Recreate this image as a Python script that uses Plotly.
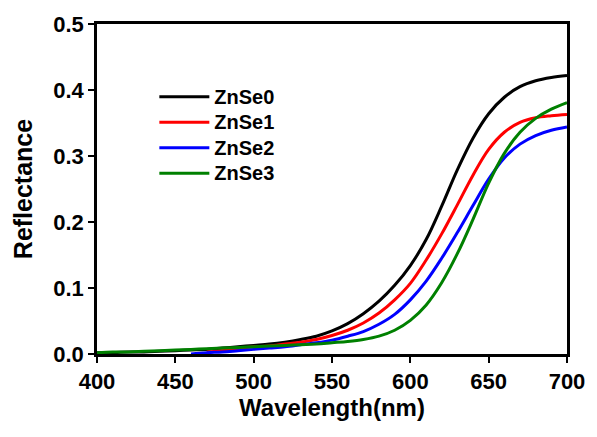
import plotly.graph_objects as go

wl = list(range(400, 701, 10))

znse0 = [0.002, 0.002, 0.003, 0.003, 0.004, 0.005, 0.006, 0.007, 0.009, 0.011,
         0.013, 0.015, 0.018, 0.022, 0.027, 0.035, 0.046, 0.061, 0.080, 0.104,
         0.134, 0.173, 0.224, 0.279, 0.327, 0.364, 0.389, 0.405, 0.414, 0.419,
         0.422]
wl1 = list(range(470, 701, 10))
znse1 = [0.003, 0.005, 0.008, 0.011, 0.012, 0.015, 0.018, 0.022, 0.028, 0.036,
         0.047, 0.062, 0.082, 0.107, 0.142, 0.182, 0.226, 0.271, 0.310, 0.336,
         0.351, 0.358, 0.361, 0.363]
wl2 = list(range(460, 701, 10))
znse2 = [0.000, 0.002, 0.003, 0.005, 0.007, 0.009, 0.011, 0.014, 0.017, 0.021,
         0.027, 0.034, 0.045, 0.060, 0.082, 0.110, 0.145, 0.184, 0.225, 0.265,
         0.297, 0.318, 0.331, 0.339, 0.344]
znse3 = [0.002, 0.003, 0.003, 0.004, 0.005, 0.006, 0.007, 0.008, 0.009, 0.010,
         0.011, 0.012, 0.013, 0.014, 0.015, 0.017, 0.019, 0.022, 0.027, 0.036,
         0.051, 0.074, 0.108, 0.152, 0.204, 0.259, 0.304, 0.336, 0.357, 0.371,
         0.381]

names = ["ZnSe0", "ZnSe1", "ZnSe2", "ZnSe3"]
colors = ["#000000", "#ff0000", "#0000ff", "#008000"]
xs = [wl, wl1, wl2, wl]
ys = [znse0, znse1, znse2, znse3]

font_fam = "Liberation Sans, Arial, sans-serif"

fig = go.Figure()
for n, c, x, y in zip(names, colors, xs, ys):
    fig.add_trace(go.Scatter(
        x=x, y=y, mode="lines",
        name="<span style='font-size:20px'><b>" + n + "</b></span>",
        line=dict(color=c, width=3, shape="spline", smoothing=1.0)))

fig.update_layout(
    width=597, height=437,
    margin=dict(l=97, r=24, t=22, b=83),
    paper_bgcolor="white", plot_bgcolor="white",
    font=dict(family=font_fam, color="black"),
    showlegend=True,
    legend=dict(x=0.122, y=0.833, xanchor="left", yanchor="top",
                bgcolor="rgba(0,0,0,0)", font=dict(size=17.3, family=font_fam),
                itemwidth=50, tracegroupgap=0),
)
fig.update_xaxes(range=[400, 700], tickmode="linear", tick0=400, dtick=50,
                 showline=True, mirror=True, linecolor="black", linewidth=2.5,
                 ticks="outside", ticklen=6, tickwidth=2, tickcolor="black",
                 showgrid=False, zeroline=False,
                 tickfont=dict(size=22, family=font_fam),
                 title=dict(text="<b>Wavelength(nm)</b>", font=dict(size=24, family=font_fam), standoff=6),
                 tickprefix="<b>", ticksuffix="</b>")
fig.update_yaxes(range=[0, 0.5], tickmode="linear", tick0=0, dtick=0.1, tickformat=".1f",
                 showline=True, mirror=True, linecolor="black", linewidth=2.5,
                 ticks="outside", ticklen=6, tickwidth=2, tickcolor="black",
                 showgrid=False, zeroline=False,
                 tickfont=dict(size=22, family=font_fam),
                 title=dict(text="<b>Reflectance</b>", font=dict(size=25, family=font_fam), standoff=14),
                 tickprefix="<b>", ticksuffix="</b>")

fig.write_html("out.html")
